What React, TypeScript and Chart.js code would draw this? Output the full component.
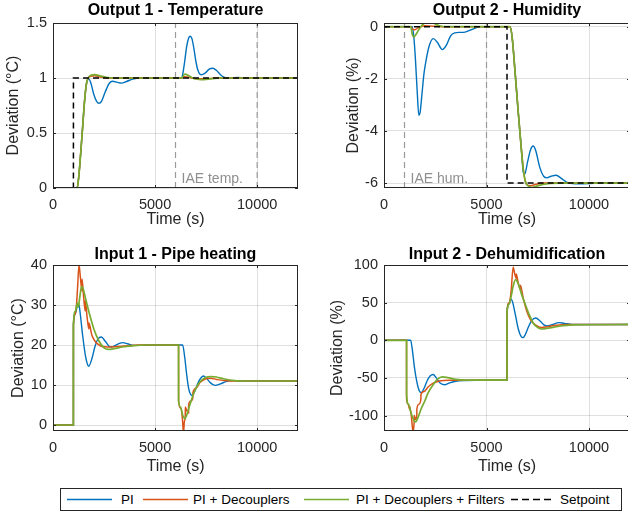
import { useEffect, useRef } from "react";
import { Chart, registerables } from "chart.js";

Chart.register(...registerables);

type Pt = [number, number];

const FONT = "'Liberation Sans', Arial, Helvetica, sans-serif";
const BLUE = "#0072BD";
const ORANGE = "#D95319";
const GREEN = "#77AC30";
const INK = "#262626";
const GRID = "rgba(38,38,38,0.15)";
const IAE_GREY = "#9a9a9a";

// ---- tick labels ----
const timeTicks = [0, 5000, 10000];
const tempTicks = [0, 0.5, 1, 1.5];
const humTicks = [-6, -4, -2, 0];
const pipeTicks = [0, 10, 20, 30, 40];
const dehumTicks = [-100, -50, 0, 50, 100];

// ---- IAE windows ----
const iaeTempBounds = [6000, 10000];
const iaeHumBounds = [1000, 5000];

// ---- Output 1 - Temperature ----
const tempSetpoint: Pt[] = [[0, 0], [1000, 0], [1001, 1], [12000, 1]];
const tempPI: Pt[] = [
  [0, 0], [1180, 0], [1260, 0.1], [1350, 0.3], [1450, 0.55], [1550, 0.8], [1640, 0.95],
  [1760, 0.99], [1860, 0.95], [2000, 0.85], [2130, 0.79], [2250, 0.77], [2380, 0.79],
  [2550, 0.87], [2750, 0.95], [2920, 0.97], [3150, 0.96], [3350, 0.953], [3600, 0.968],
  [3900, 0.99], [4300, 1.0], [6300, 1.0], [6350, 1.03], [6450, 1.15], [6550, 1.29],
  [6650, 1.365], [6720, 1.38], [6800, 1.36], [6900, 1.27], [7000, 1.15], [7100, 1.07],
  [7250, 1.03], [7450, 1.045], [7650, 1.08], [7830, 1.088], [8000, 1.07], [8200, 1.03],
  [8400, 1.005], [8700, 0.998], [9000, 1.005], [9400, 1.0], [9800, 0.997], [10300, 1.0],
  [12000, 1.0],
];
const tempDec: Pt[] = [
  [0, 0], [1180, 0], [1260, 0.1], [1350, 0.3], [1450, 0.55], [1550, 0.8], [1640, 0.95],
  [1720, 1.0], [1850, 1.015], [2050, 1.02], [2300, 1.01], [2700, 1.0], [6300, 1.0],
  [6450, 1.012], [6700, 1.005], [7000, 0.995], [7400, 0.993], [8000, 1.0], [12000, 1.0],
];
const tempFilt: Pt[] = [
  [0, 0], [1180, 0], [1260, 0.1], [1350, 0.3], [1450, 0.55], [1550, 0.8], [1640, 0.95],
  [1720, 1.0], [1850, 1.025], [2050, 1.03], [2300, 1.02], [2600, 1.007], [3000, 1.0],
  [6300, 1.0], [6460, 1.035], [6650, 1.02], [6900, 0.995], [7250, 0.985], [7600, 0.99],
  [8200, 1.0], [12000, 1.0],
];

// ---- Output 2 - Humidity ----
const humSetpoint: Pt[] = [[0, 0], [6000, 0], [6001, -6], [12000, -6]];
const humPI: Pt[] = [
  [0, 0], [1380, 0], [1450, -0.35], [1530, -1.2], [1620, -2.5], [1700, -3.4], [1760, -3.3],
  [1850, -2.6], [1950, -1.8], [2050, -1.3], [2200, -0.75], [2400, -0.46], [2600, -0.6],
  [2850, -0.88], [3050, -0.7], [3250, -0.35], [3450, -0.24], [3700, -0.22], [3950, -0.21],
  [4250, -0.12], [4700, 0], [6150, 0], [6250, -0.4], [6400, -1.8], [6550, -3.3],
  [6700, -4.7], [6800, -5.6], [6870, -5.65], [7000, -5.2], [7150, -4.72], [7280, -4.58],
  [7400, -4.75], [7600, -5.4], [7800, -5.75], [7950, -5.8], [8150, -5.74], [8400, -5.7],
  [8650, -5.82], [9000, -6.0], [9500, -6.03], [10500, -6.0], [12000, -6.0],
];
const humDec: Pt[] = [
  [0, 0], [1300, 0], [1400, -0.1], [1500, -0.12], [1700, -0.03], [2000, 0.03], [2400, 0.02],
  [2800, 0], [6150, 0], [6250, -0.4], [6400, -1.8], [6550, -3.3], [6700, -4.7], [6800, -5.5],
  [6900, -5.95], [7000, -6.08], [7150, -6.1], [7400, -6.05], [7800, -6.0], [12000, -6.0],
];
const humFilt: Pt[] = [
  [0, 0], [1300, 0], [1380, -0.3], [1460, -0.4], [1560, -0.3], [1750, -0.05], [1950, 0.12],
  [2150, 0.18], [2400, 0.14], [2650, 0.05], [2900, 0], [6150, 0], [6250, -0.4], [6400, -1.8],
  [6550, -3.3], [6700, -4.7], [6800, -5.5], [6900, -5.95], [7050, -6.12], [7200, -6.17],
  [7400, -6.13], [7700, -6.06], [8100, -6.01], [8600, -6.0], [12000, -6.0],
];

// ---- Input 1 - Pipe heating ----
const pipePI: Pt[] = [
  [0, 0], [1000, 0], [1001, 25], [1100, 28], [1200, 30], [1260, 30.3], [1330, 28],
  [1450, 22.5], [1600, 17], [1750, 14.7], [1900, 16.5], [2050, 19.5], [2200, 21.5],
  [2370, 22], [2550, 21], [2750, 19.7], [2860, 19.5], [3050, 19.9], [3250, 20.4],
  [3430, 20.6], [3650, 20.3], [3950, 19.9], [4300, 19.9], [4700, 20], [6350, 20],
  [6450, 17], [6550, 12.5], [6650, 9], [6800, 7.4], [6950, 8.5], [7100, 10.5], [7250, 11.8],
  [7370, 12.25], [7500, 11.8], [7700, 10.6], [7940, 9.9], [8200, 10.3], [8500, 10.9],
  [8800, 11.1], [9200, 11], [12000, 11],
];
const pipeDec: Pt[] = [
  [0, 0], [1000, 0], [1001, 25], [1080, 27.5], [1150, 30], [1200, 34], [1275, 40],
  [1340, 37], [1420, 33.5], [1421, 36.5], [1500, 32], [1580, 28.5], [1581, 31], [1680, 26.5],
  [1760, 24], [1761, 25.5], [1900, 22.5], [2050, 21], [2200, 20.2], [2400, 19.6], [2700, 19.5],
  [3100, 19.6], [3600, 19.8], [4200, 20], [6150, 20], [6151, 6], [6250, 4.2], [6340, 1.5],
  [6390, -2], [6440, 1], [6480, 2.5], [6481, 4.5], [6560, 3.5], [6640, 3], [6641, 5],
  [6750, 6], [6850, 6.8], [6851, 8], [7000, 9.2], [7200, 10.6], [7450, 11.5], [7700, 11.7],
  [8000, 11.4], [8500, 11.05], [9000, 11], [12000, 11],
];
const pipeFilt: Pt[] = [
  [0, 0], [1000, 0], [1001, 25], [1100, 28.5], [1190, 30.5], [1240, 29.5], [1300, 31.5],
  [1400, 34.6], [1470, 34.2], [1600, 31.5], [1800, 27.5], [2000, 24], [2250, 21], [2500, 19.3],
  [2720, 18.9], [3000, 19.1], [3400, 19.5], [3900, 19.8], [4500, 20], [6150, 20], [6151, 6],
  [6250, 4.5], [6350, 2.5], [6470, 1.6], [6550, 2.5], [6700, 5], [6900, 8], [7150, 10.5],
  [7450, 11.8], [7750, 12.1], [8000, 12.0], [8400, 11.5], [8900, 11.1], [9500, 11], [12000, 11],
];

// ---- Input 2 - Dehumidification ----
const dehumPI: Pt[] = [
  [0, 0], [1300, 0], [1380, -12], [1480, -35], [1600, -55], [1720, -67], [1820, -69.5],
  [1950, -64], [2100, -54], [2250, -47.5], [2400, -45.5], [2550, -50], [2750, -57],
  [2980, -59], [3200, -56.5], [3500, -54.5], [3900, -53.5], [4500, -53], [6000, -53],
  [6001, 37], [6100, 48], [6180, 55], [6260, 52], [6400, 35], [6550, 15], [6700, 4.5],
  [6780, 3.5], [6900, 8], [7050, 18], [7200, 26], [7400, 29.5], [7600, 26], [7800, 20.5],
  [7970, 19], [8200, 20.8], [8540, 23.5], [8800, 22.5], [9200, 21], [12000, 21],
];
const dehumDec: Pt[] = [
  [0, 0], [1100, 0], [1101, -78], [1180, -85], [1250, -92], [1251, -88], [1330, -100],
  [1415, -121], [1470, -108], [1471, -100], [1540, -105], [1600, -100], [1601, -92],
  [1700, -85], [1800, -78], [1801, -72], [1950, -68], [2150, -62], [2400, -57], [2700, -54],
  [3200, -53], [6000, -53], [6001, 37], [6100, 50], [6200, 65], [6300, 97], [6380, 88],
  [6450, 82], [6451, 88], [6550, 76], [6650, 68], [6651, 73], [6800, 55], [6950, 40],
  [7150, 27], [7400, 20], [7650, 17], [7900, 17.5], [8300, 19.5], [9000, 21], [12000, 21],
];
const dehumFilt: Pt[] = [
  [0, 0], [1100, 0], [1101, -72], [1200, -85], [1300, -95], [1420, -104], [1545, -108.5],
  [1650, -103], [1800, -92], [2000, -80], [2150, -70], [2400, -59], [2600, -52], [2850, -48.5],
  [3100, -49.5], [3500, -52], [4000, -53], [6000, -53], [6001, 37], [6100, 48], [6200, 58],
  [6300, 72], [6420, 80.5], [6550, 75], [6700, 62], [6900, 47], [7100, 33], [7300, 22],
  [7500, 17], [7700, 15], [8000, 16], [8500, 18.5], [9200, 20.5], [12000, 21],
];

const legendLabels = ["PI", "PI + Decouplers", "PI + Decouplers + Filters", "Setpoint"];

type Panel = {
  title: string;
  left: number;
  top: number;
  w: number;
  h: number;
  padRight: number;
  yAxisW: number;
  xAxisH: number;
  titleTop: number;
  titleBottom: number;
  yLabel: string;
  yTitlePad: number;
  xTitlePad: number;
  xTickPad: number;
  yMin: number;
  yMax: number;
  yTicks: number[];
  pi: Pt[];
  dec: Pt[];
  filt: Pt[];
  setpoint?: Pt[];
  iae?: { bounds: number[]; label: string };
};

const panels: Panel[] = [
  {
    title: "Output 1 - Temperature", left: 0, top: 0, w: 314, h: 235, padRight: 16, yAxisW: 53,
    xAxisH: 47, titleTop: 1, titleBottom: 2.8, yLabel: "Deviation (°C)", yTitlePad: 4.4,
    xTitlePad: 5.6, xTickPad: 8, yMin: 0, yMax: 1.5, yTicks: tempTicks, pi: tempPI, dec: tempDec,
    filt: tempFilt, setpoint: tempSetpoint, iae: { bounds: iaeTempBounds, label: "IAE temp." },
  },
  {
    title: "Output 2 - Humidity", left: 314, top: 0, w: 320, h: 235, padRight: 4, yAxisW: 70,
    xAxisH: 47, titleTop: 1, titleBottom: 2.8, yLabel: "Deviation (%)", yTitlePad: 30.4,
    xTitlePad: 5.6, xTickPad: 8, yMin: -6.19, yMax: 0.14, yTicks: humTicks, pi: humPI,
    dec: humDec, filt: humFilt, setpoint: humSetpoint,
    iae: { bounds: iaeHumBounds, label: "IAE hum." },
  },
  {
    title: "Input 1 - Pipe heating", left: 0, top: 235, w: 314, h: 250, padRight: 16, yAxisW: 53,
    xAxisH: 54, titleTop: 10, titleBottom: 0.8, yLabel: "Deviation (°C)", yTitlePad: 9.2,
    xTitlePad: 8.6, xTickPad: 8, yMin: -1.5, yMax: 40, yTicks: pipeTicks, pi: pipePI,
    dec: pipeDec, filt: pipeFilt,
  },
  {
    title: "Input 2 - Dehumidification", left: 314, top: 235, w: 320, h: 250, padRight: 4,
    yAxisW: 70, xAxisH: 54, titleTop: 10, titleBottom: 0.8, yLabel: "Deviation (%)",
    yTitlePad: 13.7, xTitlePad: 8.6, xTickPad: 8, yMin: -120.5, yMax: 100, yTicks: dehumTicks,
    pi: dehumPI, dec: dehumDec, filt: dehumFilt,
  },
];

function toXY(pts: Pt[]) {
  return pts.map(([x, y]) => ({ x, y }));
}

function series(label: string, pts: Pt[], color: string, width: number, order: number, smooth: boolean, dash: number[] = []) {
  return {
    label,
    data: toXY(pts),
    borderColor: color,
    backgroundColor: color,
    borderWidth: width,
    borderDash: dash,
    pointRadius: 0,
    fill: false,
    tension: smooth ? 0.4 : 0,
    cubicInterpolationMode: smooth ? "monotone" : "default",
    order,
  };
}

function boxPlugin(p: Panel) {
  return {
    id: "matlabBox",
    afterDatasetsDraw(chart: any) {
      const { ctx, chartArea, scales } = chart;
      const { left, right, top, bottom } = chartArea;
      const xs = scales.x;
      const ys = scales.y;
      ctx.save();
      if (p.iae) {
        ctx.fillStyle = "#8f8f8f";
        ctx.font = `14px ${FONT}`;
        ctx.textBaseline = "middle";
        ctx.textAlign = "left";
        ctx.fillText(p.iae.label, xs.getPixelForValue(p.iae.bounds[0]) + 6, bottom - 9);
      }
      ctx.strokeStyle = INK;
      ctx.lineWidth = 1;
      ctx.strokeRect(left + 0.5, top + 0.5, right - left - 1, bottom - top - 1);
      const tl = 3;
      ctx.beginPath();
      for (const v of timeTicks) {
        const px = Math.round(xs.getPixelForValue(v)) + 0.5;
        ctx.moveTo(px, bottom);
        ctx.lineTo(px, bottom - tl);
        ctx.moveTo(px, top);
        ctx.lineTo(px, top + tl);
      }
      for (const v of p.yTicks) {
        const py = Math.round(ys.getPixelForValue(v)) + 0.5;
        ctx.moveTo(left, py);
        ctx.lineTo(left + tl, py);
        ctx.moveTo(right, py);
        ctx.lineTo(right - tl, py);
      }
      ctx.stroke();
      ctx.restore();
    },
  };
}

function config(p: Panel): any {
  const datasets: any[] = [];
  if (p.iae) {
    for (const b of p.iae.bounds) {
      datasets.push(series("IAE", [[b, p.yMin], [b, p.yMax]], IAE_GREY, 1.2, 5, false, [6, 4]));
    }
  }
  datasets.push(series(legendLabels[0], p.pi, BLUE, 1.4, 3, true));
  datasets.push(series(legendLabels[1], p.dec, ORANGE, 1.5, 2, true));
  datasets.push(series(legendLabels[2], p.filt, GREEN, 1.7, 1, true));
  if (p.setpoint) {
    datasets.push(series(legendLabels[3], p.setpoint, "#000000", 1.5, 0, false, [6, 4]));
  }
  return {
    type: "line",
    data: { datasets },
    plugins: [boxPlugin(p)],
    options: {
      animation: false,
      responsive: false,
      maintainAspectRatio: false,
      events: [],
      layout: { padding: { left: 0, right: p.padRight, top: 0, bottom: 0 } },
      plugins: {
        legend: { display: false },
        tooltip: { enabled: false },
        title: {
          display: true,
          text: p.title,
          fullSize: false,
          color: "#000",
          font: { family: FONT, size: 16, weight: "bold" },
          padding: { top: p.titleTop, bottom: p.titleBottom },
        },
      },
      scales: {
        x: {
          type: "linear",
          min: 0,
          max: 12000,
          afterFit: (s: any) => { s.height = p.xAxisH; },
          afterBuildTicks: (s: any) => { s.ticks = timeTicks.map((v) => ({ value: v })); },
          ticks: {
            padding: p.xTickPad,
            color: INK,
            font: { family: FONT, size: 14.5 },
            maxRotation: 0,
            autoSkip: false,
            includeBounds: false,
            callback: (v: any) => String(v),
          },
          grid: { color: GRID, lineWidth: 1, drawTicks: false },
          border: { display: false },
          title: {
            display: true,
            text: "Time (s)",
            color: INK,
            font: { family: FONT, size: 16 },
            padding: { top: 0, bottom: p.xTitlePad },
          },
        },
        y: {
          type: "linear",
          min: p.yMin,
          max: p.yMax,
          afterFit: (s: any) => { s.width = p.yAxisW; },
          afterBuildTicks: (s: any) => { s.ticks = p.yTicks.map((v) => ({ value: v })); },
          ticks: {
            padding: 6,
            color: INK,
            font: { family: FONT, size: 14.5 },
            autoSkip: false,
            includeBounds: false,
            callback: (v: any) => String(v),
          },
          grid: { color: GRID, lineWidth: 1, drawTicks: false },
          border: { display: false },
          title: {
            display: true,
            text: p.yLabel,
            color: INK,
            font: { family: FONT, size: 16 },
            padding: { top: p.yTitlePad, bottom: 0 },
          },
        },
      },
    },
  };
}

const legendItems = [
  { color: BLUE, dash: "", lineX: 6, lineW: 45, textX: 60 },
  { color: ORANGE, dash: "", lineX: 82, lineW: 45, textX: 132 },
  { color: GREEN, dash: "", lineX: 243, lineW: 45, textX: 295 },
  { color: "#000", dash: "7,4", lineX: 450, lineW: 40, textX: 499 },
];

export default function App() {
  const refs = [
    useRef<HTMLCanvasElement>(null),
    useRef<HTMLCanvasElement>(null),
    useRef<HTMLCanvasElement>(null),
    useRef<HTMLCanvasElement>(null),
  ];

  useEffect(() => {
    Chart.defaults.font.family = FONT;
    const charts = panels.map((p, i) => new Chart(refs[i].current as HTMLCanvasElement, config(p)));
    return () => charts.forEach((c) => c.destroy());
  }, []);

  return (
    <div
      style={{
        position: "absolute",
        left: 0,
        top: 0,
        width: 628,
        height: 515,
        overflow: "hidden",
        background: "#fff",
        fontFamily: FONT,
      }}
    >
      {panels.map((p, i) => (
        <canvas
          key={i}
          ref={refs[i]}
          width={p.w}
          height={p.h}
          style={{ position: "absolute", left: p.left, top: p.top, width: p.w, height: p.h }}
        />
      ))}
      <div
        style={{
          position: "absolute",
          left: 60,
          top: 488,
          width: 562,
          height: 23,
          boxSizing: "border-box",
          border: `1px solid ${INK}`,
          background: "#fff",
        }}
      >
        {legendItems.map((it, i) => (
          <div key={i}>
            <svg
              width={it.lineW}
              height={21}
              style={{ position: "absolute", left: it.lineX, top: 0 }}
            >
              <line
                x1={0}
                y1={10.5}
                x2={it.lineW}
                y2={10.5}
                stroke={it.color}
                strokeWidth={1.5}
                strokeDasharray={it.dash || undefined}
              />
            </svg>
            <span
              style={{
                position: "absolute",
                left: it.textX,
                top: 0,
                lineHeight: "21px",
                fontSize: 13.5,
                color: "#000",
                whiteSpace: "nowrap",
              }}
            >
              {legendLabels[i]}
            </span>
          </div>
        ))}
      </div>
    </div>
  );
}
